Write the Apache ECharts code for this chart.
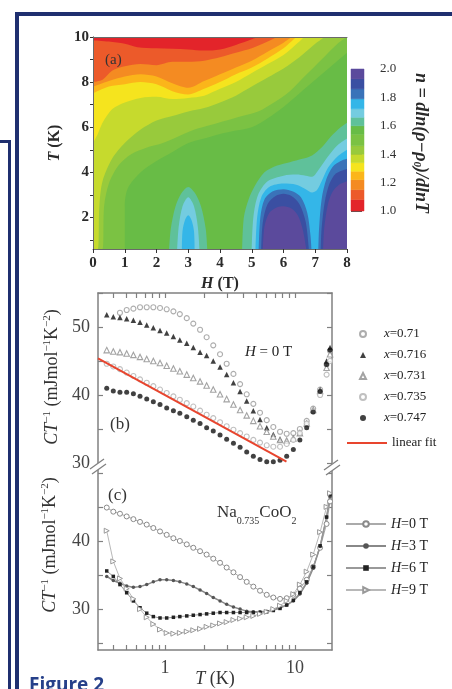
<!DOCTYPE html>
<html><head><meta charset="utf-8">
<script src="https://cdn.jsdelivr.net/npm/echarts@6/dist/echarts.min.js"></script>
<style>html,body{margin:0;padding:0;background:#fff;} #c{width:452px;height:689px;}</style>
</head><body><div id="c"></div>
<script>
// ---------- Panel (a): contour boundaries of n(H,T), points are [H (T), T (K)] ----------
// upper bands: region ABOVE each boundary has the given level colour
const C_LG = [[0,0.6],[1.0,0.6],[1.0,2.5],[1.1,3.3],[1.5,4.0],[2,4.5],[2.5,4.9],[3,5.3],[3.5,5.5],[4,5.7],[4.5,5.85],[5,6.0],[5.5,6.4],[6,6.9],[6.5,7.5],[7,8.1],[7.5,8.7],[8,9.3]];
const C_G2 = [[0,0.6],[0.3,0.6],[0.35,2.5],[0.5,3.5],[0.8,4.3],[1.2,4.8],[1.7,5.1],[2.2,5.3],[2.7,5.6],[3.2,5.9],[3.7,6.1],[4.2,6.3],[4.7,6.5],[5.2,6.7],[5.7,7.1],[6.2,7.6],[6.7,8.3],[7.2,9.0],[7.7,9.7],[8,10]];
const C_YG = [[0,0.6],[0.15,0.6],[0.2,2.5],[0.3,3.6],[0.6,4.6],[1,5.3],[1.5,5.9],[2,6.3],[2.5,6.5],[3,6.7],[3.5,6.85],[4,7.1],[4.5,7.4],[5,7.8],[5.5,8.2],[6,8.6],[6.5,9.1],[7,9.7],[7.3,10]];
const C_Y  = [[0,5.3],[0.15,5.7],[0.3,6.2],[0.6,6.8],[1,7.1],[1.5,7.3],[2,7.35],[2.5,7.25],[3,7.3],[3.5,7.4],[4,7.7],[4.5,8.0],[5,8.4],[5.5,8.8],[6,9.2],[6.5,9.8],[6.65,10]];
const C_YO = [[0,7.5],[0.5,7.8],[1,7.9],[1.5,8.0],[2,7.9],[2.5,7.6],[3,7.45],[3.5,7.7],[4,8.0],[4.5,8.35],[5,8.65],[5.5,9.05],[6,9.5],[6.4,10]];
const C_O  = [[0,7.8],[0.5,8.05],[1,8.25],[1.5,8.35],[2,8.25],[2.5,7.95],[3,7.75],[3.5,8.05],[4,8.35],[4.5,8.65],[5,8.95],[5.5,9.35],[6,9.75],[6.25,10]];
const C_RO = [[0,8.0],[0.3,8.1],[0.6,8.5],[1,8.7],[1.5,8.8],[2,8.75],[2.5,8.9],[3,8.9],[3.5,8.95],[4,9.1],[4.5,9.3],[5,9.5],[5.5,9.8],[5.8,10]];
const C_R  = [[0,9.85],[0.5,9.8],[1,9.7],[1.4,9.55],[2,9.5],[3,9.45],[3.5,9.4],[4,9.45],[4.5,9.65],[5,9.9],[5.2,10]];
// lower features: region BELOW each boundary (down to the axis) has the given level colour
const TEAL_A  = [[2.4,0.6],[2.45,1.5],[2.6,2.5],[2.8,3.1],[3.0,3.35],[3.2,3.1],[3.4,2.5],[3.55,1.5],[3.6,0.6]];
const LCYAN_A = [[2.65,0.6],[2.7,1.6],[2.82,2.5],[3.0,2.9],[3.18,2.5],[3.3,1.6],[3.35,0.6]];
const CYAN_A  = [[2.8,0.6],[2.82,1.4],[2.9,1.9],[3.0,2.1],[3.1,1.9],[3.18,1.4],[3.2,0.6]];
const TEAL_B  = [[4.7,0.6],[4.75,2.0],[4.9,2.8],[5.1,3.4],[5.4,4.0],[5.8,4.3],[6.2,4.45],[6.6,4.6],[6.9,4.75],[7.2,5.1],[7.5,5.6],[7.8,6.0],[8.0,6.2]];
const LCYAN_B = [[5.0,0.6],[5.05,2.0],[5.2,3.0],[5.5,3.6],[6.0,3.85],[6.4,3.9],[6.7,3.85],[6.9,3.8],[7.1,4.1],[7.4,4.7],[7.7,5.2],[8.0,5.5]];
const CYAN_B  = [[5.12,0.6],[5.17,2.0],[5.3,2.9],[5.55,3.35],[6.0,3.5],[6.4,3.45],[6.7,3.25],[6.9,3.1],[7.05,3.2],[7.2,3.6],[7.4,4.2],[7.7,4.7],[8.0,5.0]];
const BLUE_A  = [[5.22,0.6],[5.27,2.0],[5.4,2.8],[5.65,3.15],[6.0,3.25],[6.3,3.15],[6.55,2.9],[6.75,2.2],[6.85,1.2],[6.88,0.6]];
const DBLUE_A = [[5.3,0.6],[5.35,1.8],[5.5,2.6],[5.75,2.95],[6.0,3.05],[6.25,2.95],[6.5,2.6],[6.7,1.8],[6.8,0.6]];
const PURP_A  = [[5.35,0.6],[5.4,1.6],[5.55,2.2],[5.8,2.45],[6.0,2.5],[6.25,2.4],[6.45,2.1],[6.6,1.5],[6.72,0.6]];
const BLUE_B  = [[7.1,0.6],[7.12,1.5],[7.2,2.8],[7.35,3.7],[7.55,4.25],[7.8,4.5],[8.0,4.6]];
const DBLUE_B = [[7.17,0.6],[7.2,1.5],[7.3,2.7],[7.45,3.5],[7.65,3.95],[8.0,4.15]];
const PURP_B  = [[7.25,0.6],[7.28,1.5],[7.4,2.6],[7.55,3.15],[7.75,3.45],[8.0,3.6]];

const CB_LEVELS = [1.0,1.08,1.15,1.22,1.28,1.34,1.40,1.46,1.54,1.60,1.66,1.72,1.79,1.86,1.93,2.0];
const CB_COLORS = ['#e3242a','#ec5a2a','#f48b22','#fbb51a','#f5e41e','#c6da2d','#98ca3c','#7bc243','#68bc46','#5fc19a','#74cce0','#34b6e8','#3a73b9','#3a4fa2','#5b4a9c'];
const A_Y_TICKS = [1,2,3,4,5,6,7,8,9,10];
const A_Y_LABELS = [2,4,6,8,10];

// ---------- Panel (b): C/T vs T, H = 0 ----------
const T_B = [0.356,0.40,0.45,0.507,0.571,0.642,0.723,0.813,0.915,1.03,1.16,1.30,1.47,1.65,1.86,2.09,2.35,2.65,2.98,3.36,3.78,4.25,4.78,5.38,6.06,6.81,7.67,8.63,9.71,10.9,12.3,13.8,15.6,17.5,18.6];
const X071  = [null,null,52.1,52.5,52.7,52.9,52.9,52.9,52.8,52.6,52.3,51.9,51.3,50.5,49.6,48.5,47.3,46.0,44.6,43.1,41.6,40.1,38.7,37.4,36.3,35.3,34.6,34.3,34.4,35.0,36.2,38.0,40.8,44.5,46.5];
const X0716 = [51.8,51.5,51.4,51.2,51.0,50.7,50.3,49.9,49.5,49.1,48.6,48.1,47.6,47.0,46.3,45.8,45.0,44.1,43.0,41.8,40.5,39.1,37.7,36.4,35.2,34.2,33.5,33.2,33.6,34.4,35.8,37.8,40.8,45.0,47.0];
const X0731 = [46.6,46.4,46.3,46.1,45.9,45.6,45.3,45.0,44.7,44.3,43.9,43.5,43.0,42.5,42.0,41.4,40.8,40.1,39.4,38.6,37.8,37.0,36.2,35.4,34.6,33.9,33.4,33.3,33.6,34.4,35.8,37.8,40.6,44.0,46.0];
const X0735 = [44.6,44.2,43.8,43.3,42.8,42.3,41.8,41.3,40.8,40.3,39.8,39.3,38.8,38.3,37.7,37.1,36.6,36.0,35.4,34.9,34.4,33.9,33.4,33.0,32.6,32.4,32.4,32.8,33.4,34.4,35.8,37.6,40.0,43.0,45.0];
const X0747 = [41.0,40.6,40.4,40.4,40.2,39.8,39.4,39.0,38.6,38.1,37.7,37.3,36.8,36.3,35.8,35.2,34.7,34.1,33.5,32.9,32.3,31.6,31.0,30.5,30.2,30.2,30.4,31.0,32.0,33.4,35.2,37.5,40.5,44.5,46.6];
const FIT_T = [0.305, 8.6];
const FIT_V = [45.4, 30.2];

// ---------- Panel (c): Na0.735CoO2 in field ----------
const H0 = [44.9,44.3,44.0,43.6,43.2,42.8,42.4,41.9,41.4,40.9,40.4,40.0,39.5,39.0,38.5,38.0,37.4,36.8,36.1,35.4,34.7,34.0,33.3,32.7,32.1,31.7,31.5,31.6,32.1,33.0,34.3,36.2,39.0,42.5,45.8];
const H3 = [34.8,34.2,33.8,33.4,33.2,33.3,33.6,34.0,34.3,34.3,34.2,34.0,33.7,33.3,32.8,32.3,31.7,31.2,30.7,30.3,30.0,29.7,29.6,29.6,29.7,29.9,30.2,30.6,31.2,32.2,33.8,36.0,39.2,43.5,46.5];
const H6 = [35.6,34.8,33.6,32.4,31.2,30.2,29.4,28.9,28.7,28.7,28.8,28.9,29.0,29.1,29.2,29.3,29.4,29.5,29.5,29.5,29.5,29.5,29.5,29.5,29.6,29.8,30.1,30.6,31.3,32.4,34.0,36.2,39.3,43.5,46.8];
const H9 = [41.5,37.0,34.5,33.0,31.5,30.0,28.8,27.8,27.0,26.5,26.4,26.5,26.7,26.9,27.1,27.4,27.6,27.9,28.1,28.4,28.6,28.8,29.0,29.3,29.6,30.0,30.5,31.2,32.2,33.6,35.5,38.0,41.3,45.0,47.0];

const LOG_TICKS = [0.4,0.5,0.6,0.7,0.8,0.9,1,2,3,4,5,6,7,8,9,10];
const LOG_LABELS = [1,10];
const B_Y_LABELS = [30,40,50];
const C_Y_TICKS = [25,30,35,40,45,50];
const C_Y_LABELS = [30,40];

// ---------- build ----------
const SERIF = 'Liberation Serif';
const NAVY = '#1f2f6f';
const GRAY = '#808080';

const cbData = CB_COLORS.map((col, i) => [CB_LEVELS[i], CB_LEVELS[i + 1], i]);
const pairs = (ts, vs) => ts.map((t, i) => [t, vs[i]]).filter(p => p[1] != null);

function renderBar(params, api) {
  const p0 = api.coord([0, api.value(1)]);
  const p1 = api.coord([1, api.value(0)]);
  const col = CB_COLORS[api.value(2)];
  return {type: 'rect', shape: {x: p0[0], y: p0[1], width: p1[0] - p0[0], height: p1[1] - p0[1]},
          style: {fill: col, stroke: col, lineWidth: 0.5}};
}
function band(data, level, origin) {
  return {type: 'line', xAxisIndex: 0, yAxisIndex: 0, data: data, symbol: 'none', showSymbol: false,
          smooth: 0.3, silent: true, z: 1,
          lineStyle: {width: 0, opacity: 0},
          areaStyle: {color: CB_COLORS[level], opacity: 1, origin: origin}};
}
const BANDS_UP = [[C_LG,7],[C_G2,6],[C_YG,5],[C_Y,4],[C_YO,3],[C_O,2],[C_RO,1],[C_R,0]];
const BANDS_DOWN = [[TEAL_A,9],[LCYAN_A,10],[CYAN_A,11],[TEAL_B,9],[LCYAN_B,10],[CYAN_B,11],
                    [BLUE_A,12],[DBLUE_A,13],[PURP_A,14],[BLUE_B,12],[DBLUE_B,13],[PURP_B,14]];

const boldLbl = {fontFamily: SERIF, fontSize: 15, fontWeight: 'bold', color: '#2a2a2a'};
const grayAxis = {show: true, lineStyle: {color: GRAY, width: 1.5}};
const grayTick = {show: true, inside: true, length: 5, lineStyle: {color: GRAY, width: 1.2}};
const bcLabel = {fontFamily: SERIF, fontSize: 18, color: '#444'};

const richAxis = {
  n: {fontFamily: SERIF, fontSize: 18, lineHeight: 20},
  i: {fontFamily: SERIF, fontSize: 18, fontStyle: 'italic', lineHeight: 20},
  sup: {fontFamily: SERIF, fontSize: 11, lineHeight: 11, verticalAlign: 'top'}
};
const CT_LABEL = '{i|CT}{sup|−1}{n| (mJmol}{sup|−1}{n|K}{sup|−2}{n|)}';

const series = [];
BANDS_UP.forEach(b => series.push(band(b[0], b[1], 'end')));
BANDS_DOWN.forEach(b => series.push(band(b[0], b[1], 'start')));
series.push(
  {type: 'custom', name: 'cb', xAxisIndex: 2, yAxisIndex: 2, data: cbData, renderItem: renderBar, silent: true},
  {type: 'scatter', name: 'x=0.71', xAxisIndex: 3, yAxisIndex: 3, data: pairs(T_B, X071), symbol: 'circle', symbolSize: 5,
   itemStyle: {color: '#fff', borderColor: '#999', borderWidth: 1.1}},
  {type: 'scatter', name: 'x=0.716', xAxisIndex: 3, yAxisIndex: 3, data: pairs(T_B, X0716), symbol: 'triangle', symbolSize: 5.5,
   itemStyle: {color: '#111'}},
  {type: 'scatter', name: 'x=0.731', xAxisIndex: 3, yAxisIndex: 3, data: pairs(T_B, X0731), symbol: 'triangle', symbolSize: 5.5,
   itemStyle: {color: '#fff', borderColor: '#8c8c8c', borderWidth: 1.1}},
  {type: 'scatter', name: 'x=0.735', xAxisIndex: 3, yAxisIndex: 3, data: pairs(T_B, X0735), symbol: 'circle', symbolSize: 5,
   itemStyle: {color: '#fff', borderColor: '#b0b0b0', borderWidth: 1.1}},
  {type: 'scatter', name: 'x=0.747', xAxisIndex: 3, yAxisIndex: 3, data: pairs(T_B, X0747), symbol: 'circle', symbolSize: 5,
   itemStyle: {color: '#111'}},
  {type: 'line', name: 'linear fit', xAxisIndex: 3, yAxisIndex: 3, data: pairs(FIT_T, FIT_V), symbol: 'none',
   lineStyle: {color: '#e8452e', width: 2}, itemStyle: {color: '#e8452e'}, z: 3},
  {type: 'line', name: 'H=0 T', xAxisIndex: 4, yAxisIndex: 5, data: pairs(T_B, H0), symbol: 'circle', symbolSize: 5,
   itemStyle: {color: '#fff', borderColor: '#8a8a8a', borderWidth: 1}, lineStyle: {color: '#aaa', width: 1}},
  {type: 'line', name: 'H=3 T', xAxisIndex: 4, yAxisIndex: 5, data: pairs(T_B, H3), symbol: 'circle', symbolSize: 3.5,
   itemStyle: {color: '#555'}, lineStyle: {color: '#888', width: 1.5}},
  {type: 'line', name: 'H=6 T', xAxisIndex: 4, yAxisIndex: 5, data: pairs(T_B, H6), symbol: 'rect', symbolSize: 3.5,
   itemStyle: {color: '#222'}, lineStyle: {color: '#999', width: 1}},
  {type: 'line', name: 'H=9 T', xAxisIndex: 4, yAxisIndex: 5, data: pairs(T_B, H9), symbol: 'triangle', symbolRotate: -90, symbolSize: 5,
   itemStyle: {color: '#fff', borderColor: '#999', borderWidth: 1}, lineStyle: {color: '#b8b8b8', width: 1}}
);

const option = {
  animation: false,
  backgroundColor: '#fff',
  grid: [
    {left: 93, top: 37, width: 254, height: 212, outerBoundsMode: 'none', show: true, backgroundColor: CB_COLORS[8], borderWidth: 0, borderColor: 'transparent'},
    {left: 351, top: 69, width: 13, height: 142, outerBoundsMode: 'none'},
    {left: 98, top: 293, width: 234, height: 170, outerBoundsMode: 'none'},
    {left: 98, top: 466, width: 234, height: 184, outerBoundsMode: 'none'}
  ],
  xAxis: [
    {gridIndex: 0, type: 'value', min: 0, max: 8, interval: 1, position: 'bottom', z: 10,
     axisLine: {show: true, lineStyle: {color: '#6a6a6a', width: 1}},
     axisTick: {show: true, inside: false, length: 4, lineStyle: {color: '#333'}},
     axisLabel: Object.assign({margin: 7}, boldLbl), splitLine: {show: false},
     name: '{i|H} (T)', nameLocation: 'middle', nameGap: 27, nameMoveOverlap: false,
     nameTextStyle: {fontFamily: SERIF, fontSize: 16, fontWeight: 'bold', color: '#2a2a2a',
       rich: {i: {fontFamily: SERIF, fontSize: 16, fontWeight: 'bold', fontStyle: 'italic', color: '#2a2a2a'}}}},
    {gridIndex: 0, type: 'value', min: 0, max: 8, position: 'top', z: 10,
     axisLine: {show: true, lineStyle: {color: '#6a6a6a', width: 1}}, axisTick: {show: false}, axisLabel: {show: false}, splitLine: {show: false}},
    {gridIndex: 1, type: 'value', min: 0, max: 1, show: false},
    {gridIndex: 2, type: 'log', logBase: 10, min: 0.305, max: 19.26, position: 'top',
     axisLine: grayAxis, axisTick: Object.assign({customValues: LOG_TICKS}, grayTick),
     axisLabel: {show: false}, splitLine: {show: false}, minorTick: {show: false}},
    {gridIndex: 3, type: 'log', logBase: 10, min: 0.305, max: 19.26, position: 'bottom',
     axisLine: grayAxis, axisTick: Object.assign({customValues: LOG_TICKS}, grayTick),
     axisLabel: Object.assign({customValues: LOG_LABELS, margin: 9}, bcLabel), splitLine: {show: false},
     name: '{i|T} (K)', nameLocation: 'middle', nameGap: 20, nameMoveOverlap: false,
     nameTextStyle: {fontFamily: SERIF, fontSize: 18, color: '#333', rich: {i: {fontFamily: SERIF, fontSize: 18, fontStyle: 'italic', color: '#333'}}}}
  ],
  yAxis: [
    {gridIndex: 0, type: 'value', min: 0.6, max: 10, position: 'left', z: 10,
     axisLine: {show: true, lineStyle: {color: '#6a6a6a', width: 1}},
     axisTick: {show: true, inside: false, length: 3, customValues: A_Y_TICKS, lineStyle: {color: '#333'}},
     axisLabel: Object.assign({customValues: A_Y_LABELS, margin: 4}, boldLbl), splitLine: {show: false},
     name: '{i|T} (K)', nameLocation: 'middle', nameGap: 30, nameRotate: 90, nameMoveOverlap: false,
     nameTextStyle: {fontFamily: SERIF, fontSize: 16, fontWeight: 'bold', color: '#2a2a2a', rich: {i: {fontFamily: SERIF, fontSize: 16, fontWeight: 'bold', fontStyle: 'italic', color: '#2a2a2a'}}}},
    {gridIndex: 0, type: 'value', min: 0.6, max: 10, position: 'right', z: 10,
     axisLine: {show: true, lineStyle: {color: '#6a6a6a', width: 1}}, axisTick: {show: false}, axisLabel: {show: false}, splitLine: {show: false}},
    {gridIndex: 1, type: 'value', min: 1, max: 2, interval: 0.2, position: 'right',
     axisLine: {show: false}, axisTick: {show: true, length: 11, lineStyle: {color: '#555'}},
     axisLabel: {margin: 16, formatter: v => v.toFixed(1), fontFamily: SERIF, fontSize: 13, color: '#333'}, splitLine: {show: false}},
    {gridIndex: 2, type: 'value', min: 30, max: 55, interval: 5, position: 'left',
     axisLine: grayAxis, axisTick: grayTick,
     axisLabel: Object.assign({customValues: B_Y_LABELS, margin: 8}, bcLabel), splitLine: {show: false}},
    {gridIndex: 2, type: 'value', min: 30, max: 55, interval: 5, position: 'right',
     axisLine: grayAxis, axisTick: grayTick, axisLabel: {show: false}, splitLine: {show: false}},
    {gridIndex: 3, type: 'value', min: 24, max: 51, position: 'left',
     axisLine: grayAxis, axisTick: Object.assign({customValues: C_Y_TICKS}, grayTick),
     axisLabel: Object.assign({customValues: C_Y_LABELS, margin: 8}, bcLabel), splitLine: {show: false}},
    {gridIndex: 3, type: 'value', min: 24, max: 51, position: 'right',
     axisLine: grayAxis, axisTick: Object.assign({customValues: C_Y_TICKS}, grayTick), axisLabel: {show: false}, splitLine: {show: false}}
  ],
  legend: [
    {data: ['x=0.71', 'x=0.716', 'x=0.731', 'x=0.735', 'x=0.747'], orient: 'vertical', left: 354, top: 322,
     itemWidth: 6, itemHeight: 6, itemGap: 7, selectedMode: false,
     formatter: n => '{s| }{i|x}{n|' + n.slice(1) + '}',
     textStyle: {fontFamily: SERIF, fontSize: 13, color: '#222', lineHeight: 14,
       rich: {s: {width: 13}, i: {fontFamily: SERIF, fontSize: 13, fontStyle: 'italic', lineHeight: 14}, n: {fontFamily: SERIF, fontSize: 13, lineHeight: 14}}}},
    {data: [{name: 'linear fit', icon: 'path://M0 0H40V2H0Z'}], orient: 'vertical', left: 342, top: 431, itemWidth: 40, itemHeight: 2, selectedMode: false,
     textStyle: {fontFamily: SERIF, fontSize: 13, color: '#222', lineHeight: 14}},
    {data: ['H=0 T', 'H=3 T', 'H=6 T', 'H=9 T'], orient: 'vertical', left: 340, top: 512,
     itemWidth: 40, itemHeight: 7, itemGap: 8, selectedMode: false,
     formatter: n => '{i|H}{n|' + n.slice(1) + '}',
     textStyle: {fontFamily: SERIF, fontSize: 14, color: '#222', lineHeight: 14,
       rich: {i: {fontFamily: SERIF, fontSize: 14, fontStyle: 'italic', lineHeight: 14}, n: {fontFamily: SERIF, fontSize: 14, lineHeight: 14}}}}
  ],
  series: series,
  graphic: [
    {type: 'rect', shape: {x: 15, y: 12, width: 437, height: 4}, style: {fill: NAVY}},
    {type: 'rect', shape: {x: 15, y: 12, width: 4, height: 677}, style: {fill: NAVY}},
    {type: 'rect', shape: {x: 0, y: 140, width: 11, height: 3}, style: {fill: NAVY}},
    {type: 'rect', shape: {x: 8, y: 140, width: 3, height: 549}, style: {fill: NAVY}},
    // axis breaks
    {type: 'polygon', shape: {points: [[90, 469], [104, 459], [106, 464], [92, 474]]}, style: {fill: '#fff'}, z: 50},
    {type: 'line', shape: {x1: 90, y1: 469, x2: 104, y2: 459}, style: {stroke: GRAY, lineWidth: 1.3}, z: 51},
    {type: 'line', shape: {x1: 92, y1: 474, x2: 106, y2: 464}, style: {stroke: GRAY, lineWidth: 1.3}, z: 51},
    {type: 'polygon', shape: {points: [[324, 470], [338, 460], [340, 465], [326, 475]]}, style: {fill: '#fff'}, z: 50},
    {type: 'line', shape: {x1: 324, y1: 470, x2: 338, y2: 460}, style: {stroke: GRAY, lineWidth: 1.3}, z: 51},
    {type: 'line', shape: {x1: 326, y1: 475, x2: 340, y2: 465}, style: {stroke: GRAY, lineWidth: 1.3}, z: 51},
    // panel texts
    {type: 'text', x: 105, y: 60, z: 60, style: {text: '(a)', fontFamily: SERIF, fontSize: 15, fill: '#333', verticalAlign: 'middle'}},
    {type: 'text', x: 110, y: 425, style: {text: '(b)', fontFamily: SERIF, fontSize: 17, fill: '#333', verticalAlign: 'middle'}},
    {type: 'text', x: 108, y: 496, style: {text: '(c)', fontFamily: SERIF, fontSize: 17, fill: '#333', verticalAlign: 'middle'}},
    {type: 'text', x: 245, y: 352, style: {text: '{i|H}{n| = 0 T}', fontFamily: SERIF, fontSize: 15, fill: '#222', verticalAlign: 'middle',
      rich: {i: {fontFamily: SERIF, fontSize: 15, fontStyle: 'italic', lineHeight: 17}, n: {fontFamily: SERIF, fontSize: 15, lineHeight: 17}}}},
    {type: 'text', x: 217, y: 515, style: {text: '{n|Na}{sub|0.735}{n|CoO}{sub|2}', fontFamily: SERIF, fontSize: 17, fill: '#333', verticalAlign: 'middle',
      rich: {n: {fontFamily: SERIF, fontSize: 17, lineHeight: 22, verticalAlign: 'top'}, sub: {fontFamily: SERIF, fontSize: 10, lineHeight: 10, verticalAlign: 'bottom'}}}},
    {type: 'text', x: 421, y: 143, rotation: -Math.PI / 2, style: {
      text: '{i|n = d}{n|ln(}{i|ρ−ρ}{sub|0}{n|)/}{i|d}{n|ln}{i|T}', fontFamily: SERIF, fontSize: 18, fontWeight: 'bold', fill: '#2a2a2a',
      align: 'center', verticalAlign: 'middle',
      rich: {i: {fontFamily: SERIF, fontSize: 18, fontWeight: 'bold', fontStyle: 'italic', lineHeight: 20},
             n: {fontFamily: SERIF, fontSize: 18, fontWeight: 'bold', fontStyle: 'italic', lineHeight: 20},
             sub: {fontFamily: SERIF, fontSize: 11, fontWeight: 'bold', fontStyle: 'italic', lineHeight: 11, verticalAlign: 'bottom'}}}},
    {type: 'text', x: 52, y: 377, rotation: Math.PI / 2, style: {text: CT_LABEL, fontFamily: SERIF, fontSize: 18, fill: '#333',
      align: 'center', verticalAlign: 'middle', rich: richAxis}},
    {type: 'text', x: 50, y: 545, rotation: Math.PI / 2, style: {text: CT_LABEL, fontFamily: SERIF, fontSize: 18, fill: '#333',
      align: 'center', verticalAlign: 'middle', rich: richAxis}},
    {type: 'text', x: 29, y: 686, style: {text: 'Figure 2', fontFamily: 'Open Sans', fontSize: 19, fontWeight: 'bold', fill: '#26408a', verticalAlign: 'middle'}}
  ]
};
const chart = echarts.init(document.getElementById('c'), null, {renderer: 'canvas', width: 452, height: 689});
chart.setOption(option);
</script>
</body></html>
